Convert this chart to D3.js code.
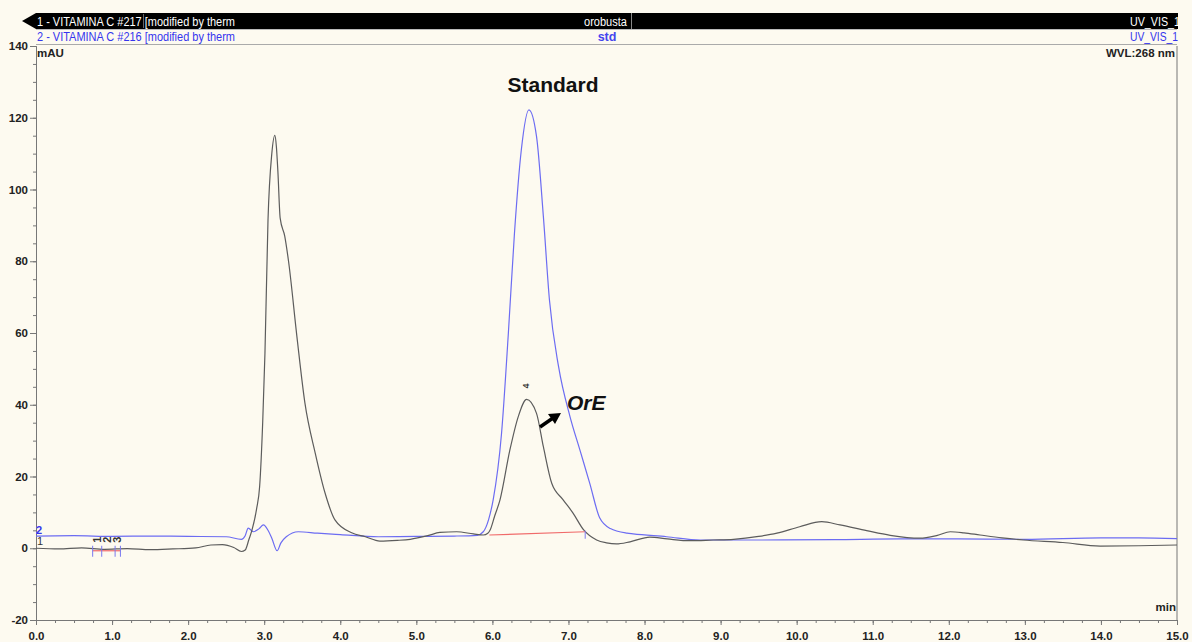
<!DOCTYPE html>
<html>
<head>
    <meta charset="utf-8">
    <title>VITAMINA C chromatogram</title>
    <script src="https://d3js.org/d3.v7.min.js"></script>
    <style>
        body {
            margin: 0;
            background: #fdfaf0;
        }
        svg {
            font-family: 'Liberation Sans', Arial, sans-serif;
            display: block;
        }
        .axis path, .axis line {
            stroke: #777;
        }
        .axis text {
            font-size: 11.5px;
            font-weight: bold;
            fill: #222;
        }
    </style>
</head>
<body>
    <div id="chart"></div>

    <script>
        // retention time (min) and signal (mAU)
        const sampleTime = [0.0, 0.3, 0.6, 0.9, 1.2, 1.5, 1.8, 2.1, 2.3, 2.45, 2.6, 2.7, 2.75, 2.8, 2.84, 2.9, 2.94, 2.98,
            3.01, 3.05, 3.1, 3.14, 3.16, 3.18, 3.21, 3.27, 3.32, 3.43, 3.535, 3.67, 3.8, 3.93, 4.15, 4.33, 4.52, 4.75,
            4.92, 5.15, 5.31, 5.53, 5.75, 5.88, 5.94, 5.97, 6.03, 6.1, 6.23, 6.34, 6.45, 6.58, 6.67, 6.78, 6.93, 7.06,
            7.2, 7.37, 7.5, 7.63, 7.81, 8.07, 8.3, 8.6, 8.9, 9.17, 9.5, 9.74, 10.04, 10.33, 10.57, 10.92, 11.23, 11.62,
            11.85, 12.02, 12.2, 12.41, 12.7, 12.98, 13.5, 13.99, 14.5, 15.0];
        const sampleSignal = [0.0, -0.2, 0.1, -0.3, -0.1, -0.4, -0.2, 0.1, 0.9, 1.0, 0.2, -0.9, -0.5, 2.5, 5.1, 11, 17.2, 35,
            54.4, 91.5, 110, 115.1, 112, 105, 92, 87, 80, 59, 40.5, 26.6, 15.4, 7.9, 4.3, 3.2, 2.0, 2.2,
            2.5, 3.5, 4.4, 4.6, 4.0, 3.7, 4.2, 5.1, 9, 13.5, 27.4, 36.7, 41.5, 37.6, 28.3, 18.1, 13.5, 9.8,
            5.1, 2.3, 1.5, 1.2, 1.8, 3.1, 2.6, 2.1, 2.3, 2.5, 3.3, 4.2, 6.0, 7.4, 6.5, 4.9, 3.6, 2.8,
            3.6, 4.6, 4.3, 3.7, 2.9, 2.3, 1.6, 0.6, 0.7, 0.9];

        const stdTime = [0.0, 0.5, 1.0, 1.5, 2.0, 2.5, 2.7, 2.75, 2.79, 2.86, 2.93, 2.99, 3.05, 3.1, 3.17, 3.22, 3.29,
            3.45, 3.7, 4.0, 4.5, 5.0, 5.5, 5.8, 5.88, 5.95, 6.01, 6.12, 6.21, 6.29, 6.38, 6.48, 6.58, 6.67, 6.75,
            6.87, 7.02, 7.15, 7.28, 7.41, 7.55, 7.77, 7.85, 8.29, 8.73, 9.5, 10.5, 11.36, 12.0, 13.0, 14.0, 14.5, 15.0];
        const stdSignal = [3.4, 3.5, 3.3, 3.4, 3.3, 3.2, 2.5, 3.5, 5.6, 4.6, 5.4, 6.5, 5.0, 2.8, -0.7, 1.5, 3.2,
            4.6, 4.2, 3.8, 3.2, 3.3, 3.4, 3.6, 4.6, 8, 13.5, 32, 60, 87.8, 111, 122.2, 114.8, 92.5, 69.2,
            50.6, 36.7, 27.4, 18.1, 8.5, 5.5, 4.2, 4.0, 3.2, 2.3, 2.3, 2.4, 2.6, 2.6, 2.5, 2.9, 2.9, 2.7];

        // integration marks: peaks 1-3 near 1 min, peak 4 under the OrE peak
        const smallPeakBounds = [0.745, 0.864, 1.04, 1.11];
        const smallPeakLevel = -0.7;
        const smallPeakNames = ["1", "2", "3"];
        const smallPeakLabelTime = [0.80, 0.93, 1.07];
        const peak4Base = [[5.96, 3.7], [7.22, 4.6]];
        const peak4Label = {name: "4", time: 6.44, value: 44.5};

        const xMajor = d3.range(0, 15.01, 1);
        const xMinor = d3.range(0, 15.01, 0.25);
        const yMajor = d3.range(-20, 141, 20);
        const yMinor = d3.range(-20, 141, 5);

        const header1 = ["1 - VITAMINA C #217 [modified by therm", "orobusta", "UV_VIS_1"];
        const header2 = ["2 - VITAMINA C #216 [modified by therm", "std", "UV_VIS_1"];

        const [width, height] = [1192, 642];
        const margin = {top: 46, right: 15, bottom: 22, left: 36};
        const blue = "#6c6cf2";
        const gray = "#5c5c5c";

        const svg = d3.select("#chart")
                      .append("svg")
                      .attr("width", width)
                      .attr("height", height);

        const x = d3.scaleLinear()
                    .domain([0, 15])
                    .range([margin.left, width - margin.right]);
        const y = d3.scaleLinear()
                    .domain([-20, 140])
                    .range([height - margin.bottom, margin.top]);

        // header bars
        svg.append("path")
            .attr("d", `M22,21L36,13L36,29Z`)
            .attr("fill", "#000");
        svg.append("rect")
            .attr("x", 36).attr("y", 13)
            .attr("width", x(15) - 36 + 1).attr("height", 16)
            .attr("fill", "#000");
        svg.append("line")
            .attr("x1", 143.5).attr("x2", 143.5).attr("y1", 14).attr("y2", 28)
            .attr("stroke", "#666");
        svg.append("line")
            .attr("x1", 631.5).attr("x2", 631.5).attr("y1", 13).attr("y2", 29)
            .attr("stroke", "#888");
        svg.append("line")
            .attr("x1", 36).attr("x2", x(15)).attr("y1", 29.5).attr("y2", 29.5)
            .attr("stroke", "#bbb");
        svg.append("line")
            .attr("x1", 36).attr("x2", x(15)).attr("y1", 44.5).attr("y2", 44.5)
            .attr("stroke", "#aaa");

        svg.append("text")
            .attr("x", 37).attr("y", 26)
            .attr("textLength", 198).attr("lengthAdjust", "spacingAndGlyphs")
            .attr("font-size", 12.5).attr("fill", "#fff")
            .text(header1[0]);
        svg.append("text")
            .attr("x", 627).attr("y", 26).attr("text-anchor", "end")
            .attr("textLength", 43).attr("lengthAdjust", "spacingAndGlyphs")
            .attr("font-size", 12.5).attr("fill", "#fff")
            .text(header1[1]);
        svg.append("text")
            .attr("x", 1130).attr("y", 26)
            .attr("textLength", 50).attr("lengthAdjust", "spacingAndGlyphs")
            .attr("font-size", 12.5).attr("fill", "#fff")
            .text(header1[2]);

        svg.append("text")
            .attr("x", 37).attr("y", 41)
            .attr("textLength", 198).attr("lengthAdjust", "spacingAndGlyphs")
            .attr("font-size", 12.5).attr("fill", "#3535ee")
            .text(header2[0]);
        svg.append("text")
            .attr("x", 607).attr("y", 41).attr("text-anchor", "middle")
            .attr("font-size", 12.5).attr("font-weight", "bold").attr("fill", "#4545ee")
            .text(header2[1]);
        svg.append("text")
            .attr("x", 1130).attr("y", 41)
            .attr("textLength", 48).attr("lengthAdjust", "spacingAndGlyphs")
            .attr("font-size", 12.5).attr("fill", "#3535ee")
            .text(header2[2]);

        // axes
        svg.append("g")
            .attr("class", "axis")
            .attr("transform", `translate(0, ${y(-20)})`)
            .call(d3.axisBottom(x).tickValues(xMinor).tickSize(3).tickFormat(""));
        svg.append("g")
            .attr("class", "axis")
            .attr("transform", `translate(0, ${y(-20)})`)
            .call(d3.axisBottom(x).tickValues(xMajor).tickSize(5).tickPadding(7).tickFormat(d3.format(".1f")));

        svg.append("g")
            .attr("class", "axis")
            .attr("transform", `translate(${x(0)}, 0)`)
            .call(d3.axisLeft(y).tickValues(yMinor).tickSize(3).tickFormat(""));
        svg.append("g")
            .attr("class", "axis")
            .attr("transform", `translate(${x(0)}, 0)`)
            .call(d3.axisLeft(y).tickValues(yMajor).tickSize(6).tickPadding(2).tickFormat(d => String(d)));

        svg.selectAll(".axis .domain").attr("stroke", "#777");

        svg.append("line")
            .attr("x1", x(15)).attr("x2", x(15)).attr("y1", y(140)).attr("y2", y(-20))
            .attr("stroke", "#777");

        svg.append("text")
            .attr("x", 37).attr("y", 57)
            .attr("font-size", 11.5).attr("font-weight", "bold").attr("fill", "#222")
            .text("mAU");
        svg.append("text")
            .attr("x", 1175).attr("y", 57).attr("text-anchor", "end")
            .attr("font-size", 11.5).attr("font-weight", "bold").attr("fill", "#222")
            .text("WVL:268 nm");
        svg.append("text")
            .attr("x", 1176).attr("y", 611).attr("text-anchor", "end")
            .attr("font-size", 11.5).attr("font-weight", "bold").attr("fill", "#222")
            .text("min");

        // traces
        const line = d3.line()
                       .x(d => x(d[0]))
                       .y(d => y(d[1]))
                       .curve(d3.curveMonotoneX);

        svg.append("path")
            .datum(d3.zip(stdTime, stdSignal))
            .attr("fill", "none")
            .attr("stroke", blue)
            .attr("stroke-width", 1.2)
            .attr("d", line);

        svg.append("path")
            .datum(d3.zip(sampleTime, sampleSignal))
            .attr("fill", "none")
            .attr("stroke", gray)
            .attr("stroke-width", 1.2)
            .attr("d", line);

        // integration baselines and peak marks
        svg.append("line")
            .attr("x1", x(smallPeakBounds[0])).attr("x2", x(smallPeakBounds[3]))
            .attr("y1", y(smallPeakLevel)).attr("y2", y(smallPeakLevel))
            .attr("stroke", "#f06a6a").attr("stroke-width", 1.2);
        svg.selectAll(".pk-tick")
            .data(smallPeakBounds)
            .enter().append("line")
            .attr("class", "pk-tick")
            .attr("x1", d => x(d)).attr("x2", d => x(d))
            .attr("y1", y(smallPeakLevel) - 5).attr("y2", y(smallPeakLevel) + 6)
            .attr("stroke", "#7a7af0");
        svg.selectAll(".pk-name")
            .data(smallPeakNames)
            .enter().append("text")
            .attr("class", "pk-name")
            .attr("transform", (d, i) => `translate(${x(smallPeakLabelTime[i]) + 4}, ${y(smallPeakLevel) - 8}) rotate(-90)`)
            .attr("font-size", 11).attr("font-weight", "bold").attr("fill", "#333")
            .text(d => d);

        svg.append("line")
            .attr("x1", x(peak4Base[0][0])).attr("x2", x(peak4Base[1][0]))
            .attr("y1", y(peak4Base[0][1])).attr("y2", y(peak4Base[1][1]))
            .attr("stroke", "#f06a6a").attr("stroke-width", 1.2);
        svg.append("line")
            .attr("x1", x(peak4Base[1][0])).attr("x2", x(peak4Base[1][0]))
            .attr("y1", y(peak4Base[1][1]) - 1).attr("y2", y(peak4Base[1][1]) + 7)
            .attr("stroke", "#7a7af0");
        svg.append("text")
            .attr("transform", `translate(${x(peak4Label.time) + 3}, ${y(peak4Label.value)}) rotate(-90)`)
            .attr("font-size", 9).attr("font-weight", "bold").attr("fill", "#333")
            .text(peak4Label.name);

        // trace numbers on the left
        svg.append("text")
            .attr("x", 36).attr("y", 534)
            .attr("font-size", 11).attr("font-weight", "bold").attr("fill", "#3535ee")
            .text("2");
        svg.append("text")
            .attr("x", 37).attr("y", 545)
            .attr("font-size", 11).attr("fill", "#333")
            .text("1");

        // annotations
        svg.append("text")
            .attr("x", 553).attr("y", 92).attr("text-anchor", "middle")
            .attr("font-size", 21).attr("font-weight", "bold").attr("fill", "#111")
            .text("Standard");
        svg.append("text")
            .attr("x", 567).attr("y", 410)
            .attr("font-size", 21).attr("font-weight", "bold").attr("font-style", "italic").attr("fill", "#111")
            .text("OrE");

        svg.append("line")
            .attr("x1", 540).attr("y1", 427).attr("x2", 553).attr("y2", 418)
            .attr("stroke", "#000").attr("stroke-width", 3.5);
        svg.append("path")
            .attr("d", "M561,413L548,414L555,424Z")
            .attr("fill", "#000");
    </script>
</body>
</html>
